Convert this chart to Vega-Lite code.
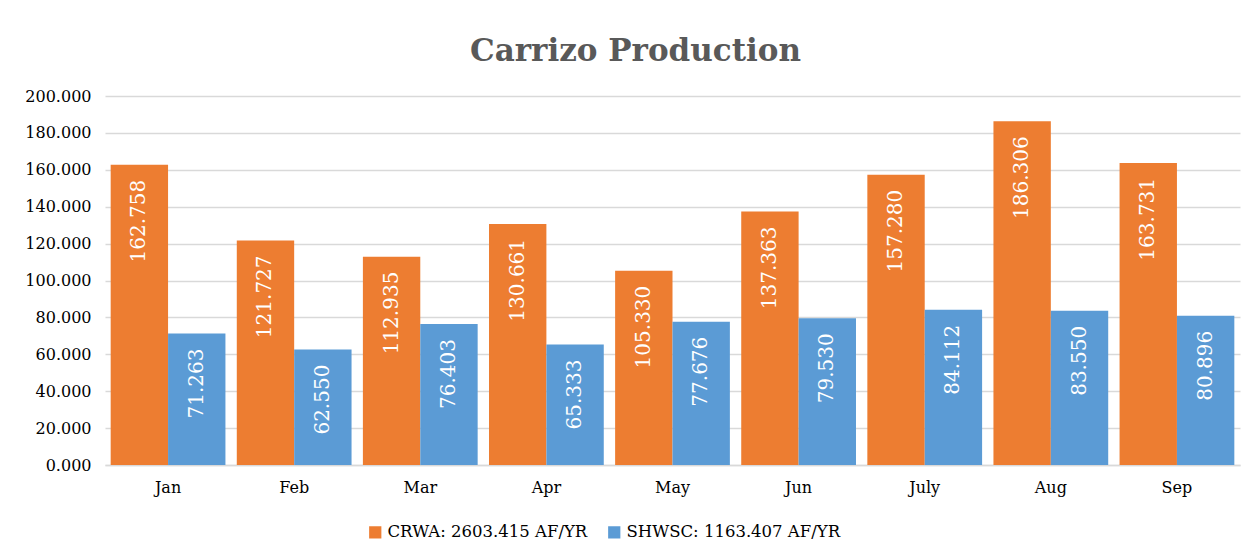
{
  "$schema": "https://vega.github.io/schema/vega-lite/v6.json",
  "width": 1135,
  "height": 369,
  "padding": {"left": 24, "top": 36, "right": 17, "bottom": 10},
  "background": "white",
  "title": {
    "text": "Carrizo Production",
    "font": "DejaVu Serif",
    "fontSize": 31,
    "fontWeight": "bold",
    "color": "#595959",
    "offset": 20,
    "dx": -37
  },
  "data": {
    "values": [
      {"month": "Jan", "series": "CRWA: 2603.415 AF/YR", "value": 162.758},
      {"month": "Feb", "series": "CRWA: 2603.415 AF/YR", "value": 121.727},
      {"month": "Mar", "series": "CRWA: 2603.415 AF/YR", "value": 112.935},
      {"month": "Apr", "series": "CRWA: 2603.415 AF/YR", "value": 130.661},
      {"month": "May", "series": "CRWA: 2603.415 AF/YR", "value": 105.330},
      {"month": "Jun", "series": "CRWA: 2603.415 AF/YR", "value": 137.363},
      {"month": "July", "series": "CRWA: 2603.415 AF/YR", "value": 157.280},
      {"month": "Aug", "series": "CRWA: 2603.415 AF/YR", "value": 186.306},
      {"month": "Sep", "series": "CRWA: 2603.415 AF/YR", "value": 163.731},
      {"month": "Jan", "series": "SHWSC: 1163.407 AF/YR", "value": 71.263},
      {"month": "Feb", "series": "SHWSC: 1163.407 AF/YR", "value": 62.550},
      {"month": "Mar", "series": "SHWSC: 1163.407 AF/YR", "value": 76.403},
      {"month": "Apr", "series": "SHWSC: 1163.407 AF/YR", "value": 65.333},
      {"month": "May", "series": "SHWSC: 1163.407 AF/YR", "value": 77.676},
      {"month": "Jun", "series": "SHWSC: 1163.407 AF/YR", "value": 79.530},
      {"month": "July", "series": "SHWSC: 1163.407 AF/YR", "value": 84.112},
      {"month": "Aug", "series": "SHWSC: 1163.407 AF/YR", "value": 83.550},
      {"month": "Sep", "series": "SHWSC: 1163.407 AF/YR", "value": 80.896}
    ]
  },
  "encoding": {
    "x": {
      "field": "month",
      "type": "nominal",
      "sort": ["Jan", "Feb", "Mar", "Apr", "May", "Jun", "July", "Aug", "Sep"],
      "scale": {"paddingInner": 0.09, "paddingOuter": 0.045},
      "axis": {
        "title": null,
        "labelAngle": 0,
        "labelFont": "DejaVu Serif",
        "labelFontSize": 16,
        "labelColor": "#000000",
        "labelPadding": 14,
        "ticks": false,
        "domainColor": "#d9d9d9",
        "domainWidth": 1.5
      }
    },
    "xOffset": {
      "field": "series",
      "type": "nominal",
      "scale": {"padding": 0}
    },
    "y": {
      "field": "value",
      "type": "quantitative",
      "scale": {"domain": [0, 200]},
      "axis": {
        "title": null,
        "format": ".3f",
        "values": [0, 20, 40, 60, 80, 100, 120, 140, 160, 180, 200],
        "labelFont": "DejaVu Serif",
        "labelFontSize": 16,
        "labelColor": "#000000",
        "labelPadding": 14,
        "ticks": false,
        "domain": false,
        "grid": true,
        "gridColor": "#d9d9d9",
        "gridWidth": 1.5
      }
    }
  },
  "layer": [
    {
      "mark": {"type": "bar"},
      "encoding": {
        "color": {
          "field": "series",
          "type": "nominal",
          "scale": {"range": ["#ED7D31", "#5B9BD5"]},
          "legend": {
            "title": null,
            "orient": "none",
            "legendX": 262,
            "legendY": 428,
            "direction": "horizontal",
            "symbolType": "square",
            "symbolSize": 150,
            "symbolStrokeWidth": 0,
            "labelFont": "DejaVu Serif",
            "labelFontSize": 16.5,
            "labelColor": "#000000",
            "labelLimit": 0,
            "columnPadding": 18
          }
        }
      }
    },
    {
      "mark": {
        "type": "text",
        "angle": 270,
        "align": "right",
        "baseline": "middle",
        "dx": -15,
        "font": "DejaVu Serif",
        "fontSize": 20,
        "color": "white"
      },
      "encoding": {
        "text": {"field": "value", "type": "quantitative", "format": ".3f"}
      }
    }
  ],
  "config": {
    "view": {"stroke": null}
  }
}
